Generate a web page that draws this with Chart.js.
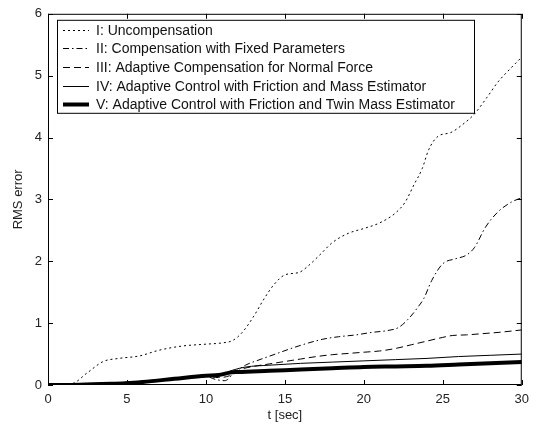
<!DOCTYPE html>
<html>
<head>
<meta charset="utf-8">
<script src="https://cdn.jsdelivr.net/npm/chart.js@4.4.1/dist/chart.umd.min.js"></script>
<style>body{margin:0;background:#fff}</style>
</head>
<body>
<canvas id="myChart" width="536" height="428"></canvas>
<script>
const ctx = document.getElementById("myChart").getContext("2d");

// valores
const tI = [0, 1.5, 2.5, 3.5, 4.5, 5.8, 7, 8.5, 10, 11, 11.7, 12.3, 13, 13.7, 14.3, 15, 15.9, 16.5, 17.2, 18, 19, 20, 21, 22, 22.6, 23.2, 23.7, 24.1, 24.7, 25.5, 26.2, 27, 27.8, 28.5, 29.3, 30];
const yI = [0, 0.02, 0.2, 0.38, 0.43, 0.47, 0.56, 0.63, 0.66, 0.68, 0.72, 0.85, 1.1, 1.4, 1.62, 1.78, 1.82, 1.93, 2.1, 2.3, 2.45, 2.53, 2.62, 2.78, 2.95, 3.25, 3.5, 3.8, 4.02, 4.08, 4.2, 4.38, 4.65, 4.9, 5.12, 5.3];

const tII = [0, 2, 4, 6, 8, 10, 10.6, 11.2, 11.8, 12.5, 13.3, 14.4, 15.5, 16.5, 17.4, 18.4, 19.5, 20.5, 21.5, 22.2, 22.9, 23.4, 23.8, 24.3, 25, 25.8, 26.5, 27, 27.7, 28.5, 29.3, 30];
const yII = [0, 0.01, 0.03, 0.06, 0.1, 0.14, 0.09, 0.07, 0.2, 0.32, 0.4, 0.5, 0.6, 0.68, 0.74, 0.78, 0.81, 0.85, 0.88, 0.93, 1.09, 1.25, 1.4, 1.69, 1.96, 2.04, 2.1, 2.22, 2.55, 2.8, 2.95, 3.03];

const tIII = [0, 2, 4, 6, 8, 10, 10.8, 11.5, 12.2, 13, 14, 15, 16, 17, 18, 19, 20, 21, 22, 23, 24, 25, 25.6, 26.5, 27.5, 28.5, 30];
const yIII = [0, 0.01, 0.03, 0.06, 0.1, 0.14, 0.12, 0.15, 0.25, 0.3, 0.34, 0.38, 0.42, 0.46, 0.49, 0.51, 0.53, 0.55, 0.59, 0.65, 0.71, 0.77, 0.8, 0.81, 0.83, 0.85, 0.89];

const tIV = [0, 2, 4, 6, 8, 10, 11, 11.7, 12.5, 14, 16, 18, 20, 22, 24, 26, 28, 30];
const yIV = [0, 0.01, 0.03, 0.06, 0.1, 0.14, 0.17, 0.24, 0.29, 0.32, 0.35, 0.37, 0.39, 0.41, 0.43, 0.46, 0.48, 0.5];

const tV = [0, 2, 4, 5, 6, 8, 10, 10.8, 11.5, 12, 14, 16, 18, 20, 22, 24, 26, 28, 30];
const yV = [0, 0.005, 0.02, 0.03, 0.05, 0.1, 0.15, 0.16, 0.2, 0.21, 0.23, 0.25, 0.27, 0.29, 0.3, 0.31, 0.33, 0.35, 0.37];

const etiquetas = [
  "I: Uncompensation",
  "II: Compensation with Fixed Parameters",
  "III: Adaptive Compensation for Normal Force",
  "IV: Adaptive Control with Friction and Mass Estimator",
  "V: Adaptive Control with Friction and Twin Mass Estimator",
];

const xTicks = [0, 5, 10, 15, 20, 25, 30];
const yTicks = [0, 1, 2, 3, 4, 5, 6];

const fuente = '"Liberation Sans", Arial, sans-serif';

function puntos(t, y) {
  return t.map((v, i) => ({ x: v, y: y[i] }));
}

function serie(label, t, y, dash, width) {
  return {
    label: label,
    data: puntos(t, y),
    borderColor: "#000",
    borderWidth: width,
    borderDash: dash,
    pointRadius: 0,
    showLine: true,
    fill: false,
    cubicInterpolationMode: "monotone",
  };
}

// marco y ticks hacia adentro estilo matlab
const marco = {
  id: "marco",
  afterDatasetsDraw(chart) {
    const c = chart.ctx;
    const a = chart.chartArea;
    const sx = chart.scales.x;
    const sy = chart.scales.y;
    c.save();
    c.strokeStyle = "#000";
    c.lineWidth = 1;
    c.setLineDash([]);
    c.strokeRect(a.left + 0.5, a.top + 0.5, a.right - a.left - 1, a.bottom - a.top - 1);
    c.beginPath();
    xTicks.forEach((v) => {
      const px = Math.round(sx.getPixelForValue(v)) + 0.5;
      c.moveTo(px, a.bottom); c.lineTo(px, a.bottom - 5);
      c.moveTo(px, a.top); c.lineTo(px, a.top + 5);
    });
    yTicks.forEach((v) => {
      const py = Math.round(sy.getPixelForValue(v)) + 0.5;
      c.moveTo(a.left, py); c.lineTo(a.left + 5, py);
      c.moveTo(a.right, py); c.lineTo(a.right - 5, py);
    });
    c.stroke();
    c.restore();
  },
};

// leyenda dentro del area
const leyenda = {
  id: "leyenda",
  afterDraw(chart) {
    const c = chart.ctx;
    const a = chart.chartArea;
    const x0 = a.left + 9, y0 = a.top + 6, w = 417, h = 93;
    c.save();
    c.fillStyle = "#fff";
    c.fillRect(x0, y0, w, h);
    c.strokeStyle = "#000";
    c.lineWidth = 1;
    c.setLineDash([]);
    c.strokeRect(x0 + 0.5, y0 + 0.5, w, h);
    c.font = "14px " + fuente;
    c.textBaseline = "middle";
    c.fillStyle = "#111";
    chart.data.datasets.forEach((ds, i) => {
      const yy = Math.round(y0 + 10 + i * 18.6) + 0.5;
      c.strokeStyle = "#000";
      c.lineWidth = ds.borderWidth;
      c.setLineDash(ds.borderDash);
      c.beginPath();
      c.moveTo(x0 + 6, yy);
      c.lineTo(x0 + 32, yy);
      c.stroke();
      c.setLineDash([]);
      c.fillText(ds.label, x0 + 39, yy + 1);
    });
    c.restore();
  },
};

new Chart(ctx, {
  type: "scatter",
  data: {
    datasets: [
      serie(etiquetas[0], tI, yI, [2, 3], 1),
      serie(etiquetas[1], tII, yII, [6, 3, 1.5, 3], 1),
      serie(etiquetas[2], tIII, yIII, [7, 4], 1),
      serie(etiquetas[3], tIV, yIV, [], 1),
      serie(etiquetas[4], tV, yV, [], 4),
    ],
  },
  options: {
    responsive: false,
    animation: false,
    layout: { padding: { top: 12, right: 13, left: 0, bottom: 0 } },
    plugins: { legend: { display: false }, tooltip: { enabled: false } },
    scales: {
      x: {
        type: "linear",
        min: 0,
        max: 30,
        afterFit(scale) { scale.height = 43; },
        afterBuildTicks(scale) { scale.ticks = xTicks.map((v) => ({ value: v })); },
        grid: { display: false, drawTicks: false },
        border: { display: false },
        ticks: { color: "#222", font: { family: fuente, size: 13 }, padding: 7, maxRotation: 0 },
        title: { display: true, text: "t [sec]", color: "#222", font: { family: fuente, size: 13 }, padding: { top: 0, bottom: 5 } },
      },
      y: {
        min: 0,
        max: 6,
        afterFit(scale) { scale.width = 48; },
        afterBuildTicks(scale) { scale.ticks = yTicks.map((v) => ({ value: v })); },
        grid: { display: false, drawTicks: false },
        border: { display: false },
        ticks: { color: "#222", font: { family: fuente, size: 13 }, padding: 6 },
        title: { display: true, text: "RMS error", color: "#222", font: { family: fuente, size: 13 }, padding: { top: 11, bottom: 0 } },
      },
    },
  },
  plugins: [marco, leyenda],
});
</script>
</body>
</html>
